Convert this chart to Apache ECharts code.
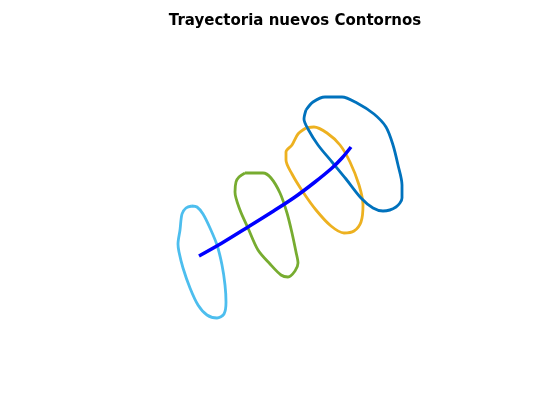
<!DOCTYPE html>
<html><head><meta charset="utf-8">
<script src="https://cdn.jsdelivr.net/npm/echarts@6/dist/echarts.min.js"></script>
<style>html,body{margin:0;padding:0;background:#fff}#c{width:560px;height:420px}</style>
</head><body><div id="c"></div>
<script>
// Contour outlines (x, y in plot units; y grows downward)
var contour1 = [[192,206],[197,207],[203,214],[210,228],[217,245],[222,265],[225,285],[226,302],[224,314],[217,318],[207,315],[198,305],[190,288],[183,268],[179,252],[178,244],[180,230],[182,214],[186,208],[192,206]];
var contour2 = [[245,173],[254,173],[263,173],[271,178],[280,193],[287,213],[292,233],[296,252],[298,263],[295,271],[288,277],[281,275],[270,264],[258,250],[248,228],[240,210],[235,192],[236,182],[239,177],[245,173]];
var contour3 = [[306,128],[314,127],[327,133],[340,145],[350,162],[359,185],[363,205],[361,222],[354,231],[344,233],[331,226],[316,210],[303,192],[292,174],[286,160],[286,152],[292,145],[298,134],[306,128]];
var contour4 = [[306,110],[313,102],[325,97],[342,97],[357,103],[374,114],[386,127],[393,145],[398,165],[402,185],[402,198],[396,207],[383,211],[373,208],[361,198],[346,179],[332,162],[318,145],[308,129],[304,119],[306,110]];
var trajectory = [[199,256],[222,243],[248,227],[272,212],[295,197],[315,182],[332,168],[342,158],[351,147]];
var colors = ['#4DBEEE','#77AC30','#EDB120','#0072BD'];
var chart = echarts.init(document.getElementById('c'));
function contourSeries(d, c){
  return {type:'line', data:d, smooth:0.3, showSymbol:false, lineStyle:{color:c, width:2.8}, silent:true, z:2};
}
chart.setOption({
  animation:false,
  title:{text:'Trayectoria nuevos Contornos', left:290, textAlign:'center', top:9,
    textStyle:{fontFamily:'DejaVu Sans', fontWeight:'bold', fontSize:15, color:'#000'}},
  grid:{left:0, right:0, top:0, bottom:0},
  xAxis:{type:'value', min:0, max:560, show:false},
  yAxis:{type:'value', min:0, max:420, inverse:true, show:false},
  series:[
    contourSeries(contour1, colors[0]),
    contourSeries(contour2, colors[1]),
    contourSeries(contour3, colors[2]),
    contourSeries(contour4, colors[3]),
    {type:'line', data:trajectory, smooth:0.3, showSymbol:false, lineStyle:{color:'#0000FF', width:3.5}, z:3}
  ]
});
</script></body></html>
